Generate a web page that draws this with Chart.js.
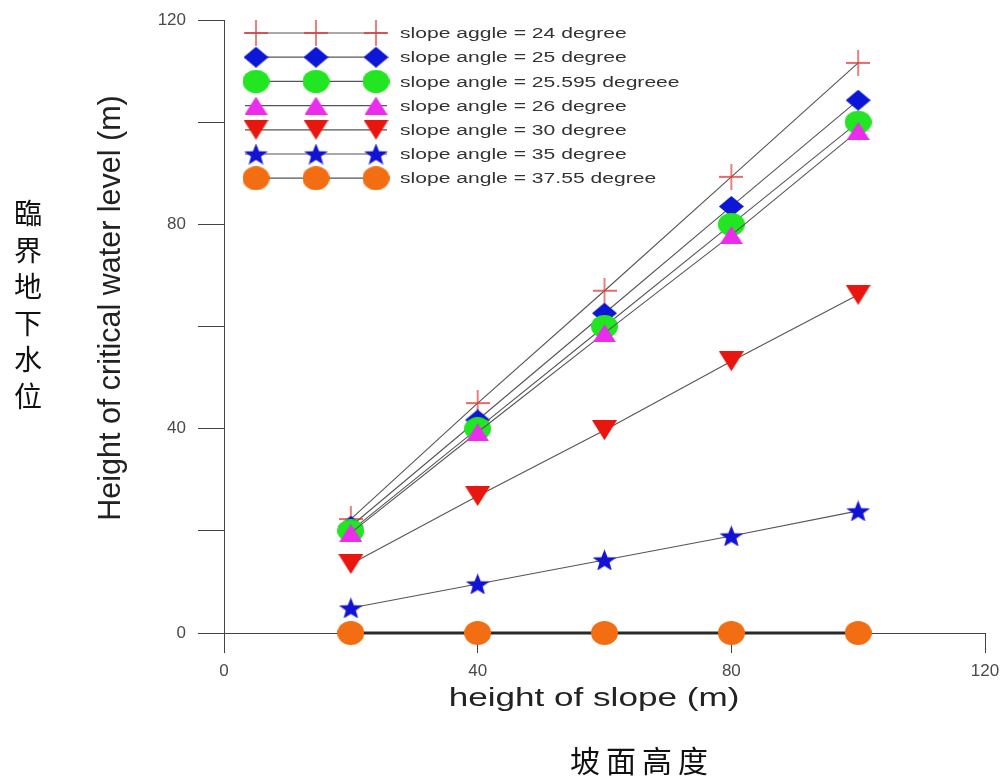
<!DOCTYPE html>
<html>
<head>
<meta charset="utf-8">
<script src="https://cdn.jsdelivr.net/npm/chart.js@4"></script>
<style>
  body { margin: 0; background: #fff; }
  #wrap { position: relative; width: 1004px; height: 776px; }
  #chart { position: absolute; left: 0; top: 0; }
  .zh { position: absolute; font-family: "Noto Sans CJK TC", sans-serif; color: #111; }
  #zhY { left: 13px; top: 194px; font-size: 28px; line-height: 36.6px; width: 30px; text-align: center; }
  #zhX { left: 570px; top: 737px; font-size: 30px; letter-spacing: 6px; }
</style>
</head>
<body>
<div id="wrap">
  <canvas id="chart" width="1004" height="776"></canvas>
  <div class="zh" id="zhY">臨<br>界<br>地<br>下<br>水<br>位</div>
  <div class="zh" id="zhX">坡面高度</div>
</div>
<script>
// slope heights (m)
const slopeHeights = [20, 40, 60, 80, 100];

// critical water level (m) for each slope angle
const angle24 = [22.3, 45.0, 67.0, 89.3, 111.6];
const angle25 = [20.9, 41.7, 62.6, 83.5, 104.3];
const angle25595 = [20.0, 40.0, 60.0, 80.0, 100.0];
const angle26 = [19.6, 39.3, 58.7, 77.9, 98.3];
const angle30 = [13.5, 26.8, 39.7, 53.2, 66.2];
const angle35 = [4.9, 9.6, 14.3, 19.0, 23.9];
const angle3755 = [0, 0, 0, 0, 0];

const seriesLabels = [
  'slope aggle = 24 degree',
  'slope angle = 25 degree',
  'slope angle = 25.595 degreee',
  'slope angle = 26 degree',
  'slope angle = 30 degree',
  'slope angle = 35 degree',
  'slope angle = 37.55 degree'
];

const xTickLabels = [0, 40, 80, 120];
const yTickLabels = [0, 40, 80, 120];

const xTitle = 'height of slope (m)';
const yTitle = 'Height of critical water level (m)';

Chart.defaults.font.family = '"Liberation Sans", Arial, sans-serif';

// build marker images (the original figure is a bit stretched sideways)
function makeMarker(shape, color, w, h) {
  const c = document.createElement('canvas');
  c.width = w;
  c.height = h;
  const g = c.getContext('2d');
  g.fillStyle = color;
  g.strokeStyle = color;
  g.beginPath();
  if (shape === 'plus') {
    g.lineWidth = 1.3;
    g.moveTo(0, h / 2); g.lineTo(w, h / 2);
    g.moveTo(w / 2, 0); g.lineTo(w / 2, h);
    g.stroke();
    return c;
  }
  if (shape === 'diamond') {
    g.moveTo(w / 2, 0); g.lineTo(w, h / 2); g.lineTo(w / 2, h); g.lineTo(0, h / 2);
  } else if (shape === 'circle') {
    g.ellipse(w / 2, h / 2, w / 2, h / 2, 0, 0, Math.PI * 2);
  } else if (shape === 'up') {
    g.moveTo(w / 2, 0); g.lineTo(w, h); g.lineTo(0, h);
  } else if (shape === 'down') {
    g.moveTo(0, 0); g.lineTo(w, 0); g.lineTo(w / 2, h);
  } else if (shape === 'star') {
    for (let k = 0; k < 10; k++) {
      const r = k % 2 === 0 ? 1 : 0.42;
      const a = -Math.PI / 2 + k * Math.PI / 5;
      const px = w / 2 + Math.cos(a) * r * w / 2;
      const py = h * 0.55 + Math.sin(a) * r * h * 0.55;
      if (k === 0) g.moveTo(px, py); else g.lineTo(px, py);
    }
  }
  g.closePath();
  g.fill();
  return c;
}

const markers = [
  makeMarker('plus', '#e23a3a', 24, 26),
  makeMarker('diamond', '#0b16d6', 25, 21),
  makeMarker('circle', '#22e622', 27, 23),
  makeMarker('up', '#ec2cec', 23, 18),
  makeMarker('down', '#e8160f', 25, 20),
  makeMarker('star', '#1212d4', 25, 21),
  makeMarker('circle', '#f36d12', 27, 24)
];

const seriesValues = [angle24, angle25, angle25595, angle26, angle30, angle35, angle3755];

const datasets = seriesValues.map((vals, i) => ({
  label: seriesLabels[i],
  data: slopeHeights.map((x, j) => ({ x: x, y: vals[j] })),
  borderColor: i === 6 ? '#2a2a2a' : '#555555',
  borderWidth: i === 6 ? 3 : 1.1,
  pointStyle: markers[i],
  pointRadius: 11,
  pointHoverRadius: 11,
  clip: false,
  order: 6 - i // later series drawn on top
}));

// legend and axis titles drawn by hand
const figureText = {
  id: 'figureText',
  afterDraw(chart) {
    const ctx = chart.ctx;

    // legend
    chart.data.datasets.forEach((ds, i) => {
      const y = 33 + i * 24.2;
      ctx.save();
      ctx.strokeStyle = '#555';
      ctx.lineWidth = 1.2;
      ctx.beginPath();
      ctx.moveTo(245, y);
      ctx.lineTo(387, y);
      ctx.stroke();
      [256, 316, 376].forEach(mx => {
        const img = ds.pointStyle;
        ctx.drawImage(img, mx - img.width / 2, y - img.height / 2);
      });
      ctx.fillStyle = '#333';
      ctx.font = '15.5px "Liberation Sans", Arial, sans-serif';
      ctx.textBaseline = 'middle';
      ctx.translate(400, y + 1);
      ctx.scale(1.36, 1);
      ctx.fillText(ds.label, 0, 0);
      ctx.restore();
    });

    // x title
    ctx.save();
    ctx.fillStyle = '#222';
    ctx.font = '26px "Liberation Sans", Arial, sans-serif';
    ctx.textAlign = 'center';
    ctx.textBaseline = 'alphabetic';
    ctx.translate(594, 706);
    ctx.scale(1.35, 1);
    ctx.fillText(xTitle, 0, 0);
    ctx.restore();

    // y title
    ctx.save();
    ctx.fillStyle = '#222';
    ctx.font = '27px "Liberation Sans", Arial, sans-serif';
    ctx.textAlign = 'center';
    ctx.textBaseline = 'middle';
    ctx.translate(111, 308);
    ctx.rotate(-Math.PI / 2);
    ctx.scale(1.13, 1.15);
    ctx.fillText(yTitle, 0, 0);
    ctx.restore();
  }
};

new Chart(document.getElementById('chart'), {
  type: 'line',
  data: { datasets: datasets },
  options: {
    responsive: false,
    animation: false,
    devicePixelRatio: 1,
    layout: { padding: { top: 20, right: 19, left: 0, bottom: 0 } },
    plugins: {
      legend: { display: false },
      tooltip: { enabled: false }
    },
    scales: {
      x: {
        type: 'linear',
        min: 0,
        max: 120,
        afterFit: s => {
          s.height = 143;
          s.paddingLeft = 0;
          s.paddingRight = 0;
        },
        afterBuildTicks: s => { s.ticks = xTickLabels.map(v => ({ value: v })); },
        ticks: { color: '#4a4a4a', font: { size: 17 }, padding: 8, maxRotation: 0 },
        grid: { drawOnChartArea: false, tickLength: 20, color: '#444' },
        border: { color: '#444', width: 1 }
      },
      y: {
        type: 'linear',
        min: 0,
        max: 120,
        afterFit: s => {
          s.width = 224;
          s.paddingTop = 0;
          s.paddingBottom = 0;
        },
        ticks: {
          stepSize: 20,
          color: '#4a4a4a',
          font: { size: 17 },
          padding: 12,
          callback: v => (yTickLabels.includes(v) ? v : '')
        },
        grid: { drawOnChartArea: false, tickLength: 26, color: '#444' },
        border: { color: '#444', width: 1 }
      }
    }
  },
  plugins: [figureText]
});
</script>
</body>
</html>
